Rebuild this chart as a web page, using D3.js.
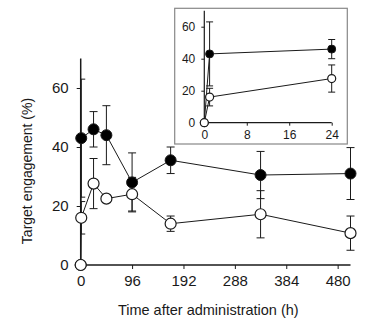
<!DOCTYPE html>
<html><head><meta charset="utf-8">
<script src="https://cdn.jsdelivr.net/npm/d3@7"></script>
<style>body{margin:0;background:#fff}svg{display:block;font-family:"Liberation Sans",Arial,sans-serif}</style>
</head><body>
<svg id="c" width="370" height="323"></svg>
<script>
// Data
const times      = [0, 1, 24, 48, 96, 168, 336, 504];
const filledVals = [0, 43, 46, 44, 28, 35.5, 30.5, 31];
const filledErr  = [0, 20, 6, 10, 10, 4.5, 8, 8.8];
const openVals   = [0, 16, 27.6, 22.5, 24, 14, 17.2, 10.8];
const openErr    = [0, 5.5, 8.5, 0, 5.7, 2.6, 8, 5.8];
const xTicksMain = [0, 96, 192, 288, 384, 480];
const yTicks     = [0, 20, 40, 60];
const xTicksInset = [0, 8, 16, 24];

const svg = d3.select("#c");
const ink = "#1a1a1a";

function series(vals, errs){ return times.map((t,i)=>({t, v: vals[i], e: errs[i]})); }
const filled = series(filledVals, filledErr);
const open = series(openVals, openErr);

let clipN = 0;
function drawPanel(g, x, y, opt){
  const xa = d3.axisBottom(x).tickValues(opt.xTicks).tickSize(opt.tick).tickPadding(opt.padX).tickFormat(d3.format("d"));
  const ya = d3.axisLeft(y).tickValues(yTicks).tickSize(opt.tick).tickPadding(opt.padY).tickFormat(d3.format("d"));
  const gx = g.append("g").attr("transform", `translate(0,${y(0)})`).call(xa);
  const gy = g.append("g").attr("transform", `translate(${x(0)},0)`).call(ya);
  [gx, gy].forEach(a=>{
    a.select(".domain").attr("stroke", ink).attr("stroke-width", opt.axisW);
    a.selectAll(".tick line").attr("stroke", ink).attr("stroke-width", 1);
    a.selectAll(".tick text").attr("fill", ink).style("font-size", opt.font + "px");
  });
  gx.select(".domain").attr("d", `M${x.range()[0]},0H${x.range()[1]}`);
  gy.select(".domain").attr("d", `M0,${y.range()[0]}V${y.range()[1]}`);

  const fd = filled.filter(d=>d.t<=opt.tmax), od = open.filter(d=>d.t<=opt.tmax);
  const line = d3.line().x(d=>x(d.t)).y(d=>y(d.v));
  [fd, od].forEach(s=> g.append("path").attr("d", line(s)).attr("fill","none").attr("stroke", ink).attr("stroke-width", 1));
  const cap = opt.cap;
  const id = "clip" + (clipN++);
  g.append("clipPath").attr("id", id).append("rect")
    .attr("x", opt.clipErr ? x(0) - 0.5 : 0).attr("y", 0).attr("width", 400).attr("height", 400);
  [fd, od].forEach(s=>{
    const eb = g.append("g").attr("clip-path", `url(#${id})`).attr("stroke", ink).attr("stroke-width", 1).attr("fill","none");
    s.filter(d=>d.e>0).forEach(d=>{
      const cx = x(d.t);
      eb.append("path").attr("d",
        `M${cx},${y(d.v-d.e)}V${y(d.v+d.e)}M${cx-cap},${y(d.v+d.e)}H${cx+cap}M${cx-cap},${y(d.v-d.e)}H${cx+cap}`);
    });
  });
  g.append("g").selectAll("circle").data(fd).join("circle")
    .attr("cx", d=>x(d.t)).attr("cy", d=>y(d.v)).attr("r", opt.r)
    .attr("fill", "#000").attr("stroke", ink).attr("stroke-width", 1);
  g.append("g").selectAll("circle").data(od).join("circle")
    .attr("cx", d=>x(d.t)).attr("cy", d=>y(d.v)).attr("r", opt.r)
    .attr("fill", "#fff").attr("stroke", ink).attr("stroke-width", 1.2);
}

// Main panel
const xM = d3.scaleLinear().domain([0, 504]).range([80.7, 350.5]);
const yM = d3.scaleLinear().domain([0, 70]).range([265, 58.5]);
drawPanel(svg.append("g"), xM, yM, {xTicks: xTicksMain, tick: 4, padX: 6, padY: 8, font: 15, axisW: 1.5, tmax: 1000, cap: 4, r: 5.5, clipErr: true});

svg.append("text").attr("x", 208.3).attr("y", 315).attr("text-anchor","middle")
  .attr("fill", ink).style("font-size","14.5px").text("Time after administration (h)");
svg.append("text").attr("transform", "translate(32,171) rotate(-90)").attr("text-anchor","middle")
  .attr("fill", ink).style("font-size","14px").text("Target engagement (%)");

// Inset
svg.append("rect").attr("x", 174.7).attr("y", 8.3).attr("width", 172.6).attr("height", 135.7)
  .attr("fill", "#fff").attr("stroke", "#888").attr("stroke-width", 1.2);
const xI = d3.scaleLinear().domain([0, 24]).range([204.3, 331.7]);
const yI = d3.scaleLinear().domain([0, 70]).range([122.7, 10.7]);
drawPanel(svg.append("g"), xI, yI, {xTicks: xTicksInset, tick: 3, padX: 5, padY: 6, font: 12, axisW: 1.2, tmax: 24, cap: 3.5, r: 4, clipErr: false});
</script>
</body></html>
